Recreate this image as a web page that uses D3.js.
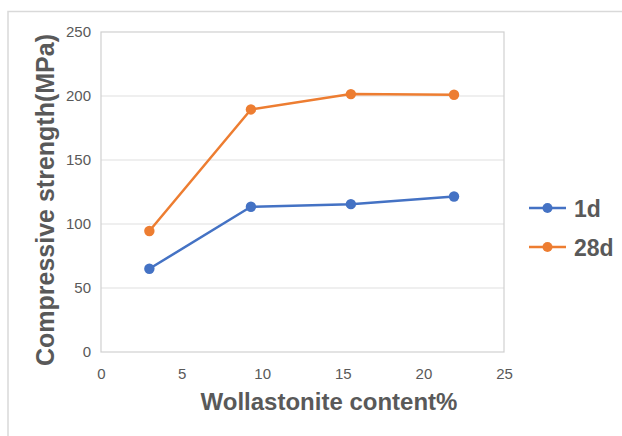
<!DOCTYPE html>
<html>
<head>
<meta charset="utf-8">
<script src="https://cdn.jsdelivr.net/npm/d3@7"></script>
<style>
  html, body { margin: 0; padding: 0; background: #fff; }
  svg { display: block; font-family: "Liberation Sans", Arial, Helvetica, sans-serif; }
</style>
</head>
<body>
<svg id="chart" width="622" height="436"></svg>
<script>
// Wollastonite content (%) and compressive strength (MPa) at 1 and 28 days
const contents = [3, 9.3, 15.5, 21.9];
const strength1d = [65, 113.5, 115.5, 121.5];
const strength28d = [94.5, 189.5, 201.5, 201];
const seriesNames = ["1d", "28d"];
const seriesColors = ["#4472C4", "#ED7D31"];
const xTicks = [0, 5, 10, 15, 20, 25];
const yTicks = [0, 50, 100, 150, 200, 250];

const svg = d3.select("#chart");
const W = 622, H = 436;
const plot = { left: 101, right: 504, top: 32, bottom: 352 };

const x = d3.scaleLinear().domain([0, 25]).range([plot.left, plot.right]);
const y = d3.scaleLinear().domain([0, 250]).range([plot.bottom, plot.top]);

// outer frame
svg.append("rect")
  .attr("x", 8).attr("y", 11.5)
  .attr("width", W).attr("height", H)
  .attr("fill", "none").attr("stroke", "#d9d9d9").attr("stroke-width", 1.5);

// horizontal gridlines
svg.append("g")
  .selectAll("line")
  .data(yTicks.filter(v => v > 0 && v < 250))
  .join("line")
  .attr("x1", plot.left).attr("x2", plot.right)
  .attr("y1", d => y(d)).attr("y2", d => y(d))
  .attr("stroke", "#e0e0e0").attr("stroke-width", 1.2);

// plot border
svg.append("rect")
  .attr("x", plot.left).attr("y", plot.top)
  .attr("width", plot.right - plot.left).attr("height", plot.bottom - plot.top)
  .attr("fill", "none").attr("stroke", "#d0d0d0").attr("stroke-width", 1.2);

// axes (labels only)
const yAxis = svg.append("g")
  .attr("transform", `translate(${plot.left},0)`)
  .call(d3.axisLeft(y).tickValues(yTicks).tickSize(0).tickPadding(10));
const xAxis = svg.append("g")
  .attr("transform", `translate(0,${plot.bottom})`)
  .call(d3.axisBottom(x).tickValues(xTicks).tickSize(0).tickPadding(16));
[yAxis, xAxis].forEach(g => {
  g.select(".domain").remove();
  g.selectAll("text")
    .attr("fill", "#595959")
    .style("font-size", "15px")
    .style("font-family", "'Liberation Sans', Arial, sans-serif");
});

// axis titles
svg.append("text")
  .attr("transform", `translate(54,${200}) rotate(-90)`)
  .attr("text-anchor", "middle")
  .attr("fill", "#595959")
  .style("font-size", "25px").style("font-weight", "bold")
  .text("Compressive strength(MPa)");

svg.append("text")
  .attr("x", 329).attr("y", 410)
  .attr("text-anchor", "middle")
  .attr("fill", "#595959")
  .style("font-size", "24px").style("font-weight", "bold")
  .text("Wollastonite content%");

// series
const series = [strength1d, strength28d].map((vals, i) => ({
  name: seriesNames[i],
  color: seriesColors[i],
  points: vals.map((v, j) => ({ x: contents[j], y: v }))
}));

const line = d3.line().x(d => x(d.x)).y(d => y(d.y));

const sg = svg.append("g").selectAll("g").data(series).join("g");
sg.append("path")
  .attr("d", d => line(d.points))
  .attr("fill", "none")
  .attr("stroke", d => d.color)
  .attr("stroke-width", 2.5)
  .attr("stroke-linejoin", "round");
sg.each(function(s) {
  d3.select(this).selectAll("circle")
    .data(s.points)
    .join("circle")
    .attr("cx", d => x(d.x)).attr("cy", d => y(d.y))
    .attr("r", 5.2)
    .attr("fill", s.color);
});

// legend
const legend = svg.append("g")
  .selectAll("g")
  .data(series)
  .join("g")
  .attr("transform", (d, i) => `translate(529,${208 + i * 39})`);
legend.append("line")
  .attr("x1", 0).attr("x2", 37)
  .attr("stroke", d => d.color).attr("stroke-width", 2.5);
legend.append("circle")
  .attr("cx", 18.5).attr("r", 5)
  .attr("fill", d => d.color);
legend.append("text")
  .attr("x", 45).attr("y", 9)
  .attr("fill", "#595959")
  .style("font-size", "23px").style("font-weight", "bold")
  .text(d => d.name);
</script>
</body>
</html>
